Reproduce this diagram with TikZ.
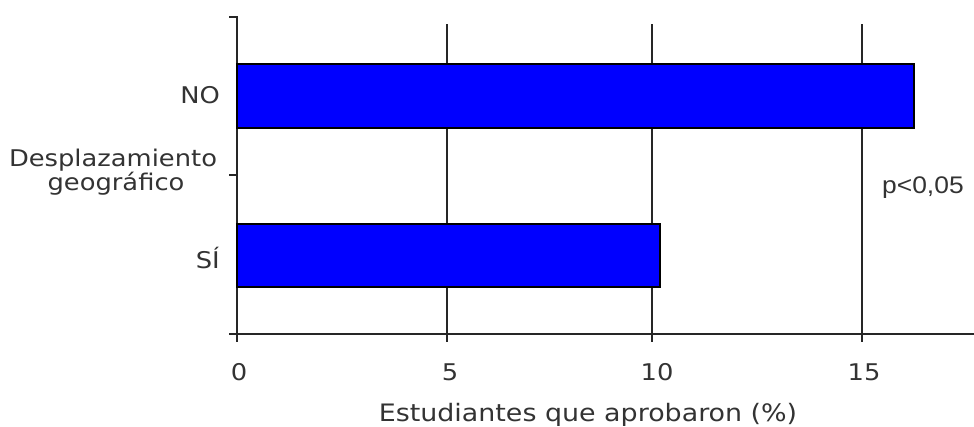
\documentclass[tikz,border=0pt]{standalone}
\usepackage{fontspec}
\setmainfont[FakeStretch=1.12]{DejaVu Sans}
\newfontfamily\arialf[FakeStretch=1.1]{Liberation Sans}
\begin{document}
\begin{tikzpicture}[x=1pt,y=-1pt,
  axisline/.style={line width=2pt, draw=black!85, line cap=rect},
  barbox/.style={fill=blue, draw=black, line width=1.6pt},
  lbl/.style={font=\fontsize{23}{24}\selectfont, inner sep=0pt, text=black!80},
  xlbl/.style={font=\fontsize{24}{24}\selectfont, inner sep=0pt, text=black!80},
  plbl/.style={font=\arialf\fontsize{24}{24}\selectfont, inner sep=0pt, text=black!80}]
\useasboundingbox (0,0) rectangle (974,426);
\fill[white] (0,0) rectangle (974,426);
% grid lines
\foreach \x/\n in {447/g5,652/g10,862/g15}{
  \coordinate (\n top) at (\x,25);
  \coordinate (\n bot) at (\x,341);
  \draw[axisline] (\n top) -- (\n bot);
}
% axes
\coordinate (xaxL) at (230,334);
\coordinate (xaxR) at (974,334);
\coordinate (yaxT) at (237,17);
\coordinate (yaxB) at (237,341);
\coordinate (tkT) at (230,17);
\coordinate (tkM1) at (230,175);
\coordinate (tkM2) at (237,175);
\draw[axisline] (xaxL) -- (xaxR);
\draw[axisline] (yaxT) -- (yaxB);
\draw[axisline] (tkT) -- (yaxT);
\draw[axisline] (tkM1) -- (tkM2);
% bars
\draw[barbox] (237,64) rectangle (914,128);
\draw[barbox] (237,224) rectangle (660,287);
% category labels
\node[lbl, anchor=base east] (no) at (220,103) {NO};
\node[lbl, anchor=base east] (si) at (220,268) {SÍ};
\node[lbl, anchor=base] (desp1) at (113,166) {Desplazamiento};
\node[lbl, anchor=base] (desp2) at (116,190) {geográfico};
% tick labels
\node[lbl, anchor=base] (t0) at (239,380) {0};
\node[lbl, anchor=base] (t5) at (450,380) {5};
\node[lbl, anchor=base] (t10) at (657,380) {10};
\node[lbl, anchor=base] (t15) at (864,380) {15};
% axis title
\node[xlbl, anchor=base] (xt) at (588,421) {Estudiantes que aprobaron (\%)};
% p value
\node[plbl, anchor=base west] (pv) at (882,193) {p<0,05};
\end{tikzpicture}
\end{document}
